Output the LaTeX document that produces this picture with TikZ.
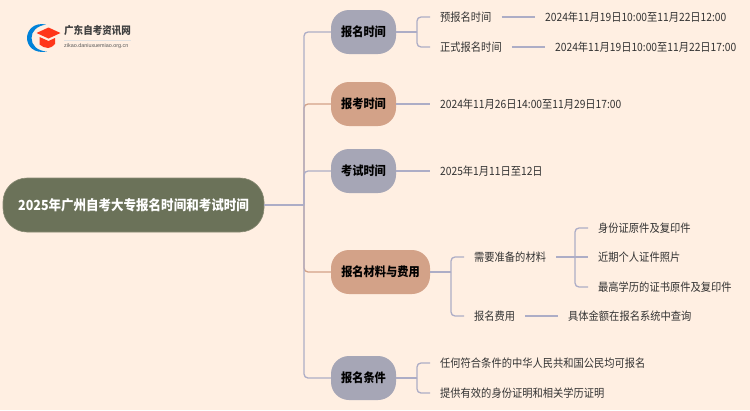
\documentclass[tikz,border=0pt]{standalone}
\usepackage{fontspec}
\setmainfont[FakeStretch=0.9]{Noto Sans CJK SC}
\newfontfamily\latinsans{Liberation Sans}
\definecolor{bgc}{HTML}{FFEFE2}
\definecolor{rootc}{HTML}{6B7259}
\definecolor{lav}{HTML}{A6A6B6}
\definecolor{sal}{HTML}{D3A288}
\definecolor{linel}{HTML}{ADADC6}
\definecolor{txt}{HTML}{333333}
\tikzset{
  x=1pt,y=-1pt,
  rootbox/.style={draw=rootc!80!bgc,line width=.6pt,fill=rootc,rounded corners=24pt,minimum width=261pt,minimum height=54pt,inner sep=0pt,text=white,font=\fontsize{13.9}{14}\selectfont\bfseries},
  topic/.style={rounded corners=18pt,minimum height=44pt,inner sep=0pt,text height=10.5pt,text depth=1.5pt,text=black,font=\fontsize{12.45}{13}\selectfont\bfseries},
  lavbox/.style={topic,fill=lav},
  salbox/.style={topic,fill=sal},
  leaf/.style={anchor=west,inner xsep=10pt,inner ysep=0pt,text height=10pt,text depth=1.4pt,text=txt,font=\fontsize{11.4}{12}\selectfont},
  lk/.style={draw=linel,line width=1.3pt,rounded corners=4pt},
  lks/.style={draw=sal,line width=1.3pt,rounded corners=4pt}
}
\begin{document}
\begin{tikzpicture}
\fill[bgc] (0,0) rectangle (750,410);
\useasboundingbox (0,0) rectangle (750,410);
% logo
\fill[color=blue!40!cyan!85!black] (46,24.5) .. controls (33,22) and (27,31) .. (27,38) .. controls (27,46) and (34,54) .. (47,51.5) .. controls (37,51) and (31.5,45) .. (31.5,38) .. controls (31.5,31) and (37,26) .. (46,24.5) -- cycle;
\fill[red!75!orange!90!white] (48.5,27.5) -- (60.5,33) -- (48.5,38.5) -- (36.5,33) -- cycle;
\fill[red!75!orange!90!white] (39.5,37) -- (48.5,41) -- (55,38) -- (55,44) .. controls (52,47) and (50,48) .. (48,48) .. controls (45,48) and (42,46.5) .. (39.5,44.5) -- cycle;
\node[inner sep=0pt,anchor=west,text=black!75,font=\fontsize{10.6}{11}\selectfont\bfseries] (logot) at (64,31) {广东自考资讯网};
\draw[black!12,line width=.4pt] (64,40.5) -- (131,40.5);
\node[inner sep=0pt,anchor=west,text=black!65,font=\latinsans\fontsize{5.4}{6}\selectfont] (logos) at (64,46) {zikao.daniuxuemiao.org.cn};
% nodes
\node[rootbox] (root) at (133.5,205) {2025年广州自考大专报名时间和考试时间};
\node[lavbox,minimum width=65pt] (n1) at (363.5,32) {报名时间};
\node[salbox,minimum width=65pt] (n2) at (363.5,104) {报考时间};
\node[lavbox,minimum width=65pt] (n3) at (363.5,171) {考试时间};
\node[salbox,minimum width=99pt] (n4) at (380.5,272) {报名材料与费用};
\node[lavbox,minimum width=65pt] (n5) at (363.5,378) {报名条件};
\node[leaf] (a1) at (430,17) {预报名时间};
\node[leaf] (a2) at (430,47) {正式报名时间};
\node[leaf] (a1d) at (535,17) {2024年11月19日10:00至11月22日12:00};
\node[leaf] (a2d) at (545,47) {2024年11月19日10:00至11月22日17:00};
\node[leaf] (b1) at (430,104) {2024年11月26日14:00至11月29日17:00};
\node[leaf] (c1) at (430,171) {2025年1月11日至12日};
\node[leaf] (d1) at (464,257) {需要准备的材料};
\node[leaf] (d2) at (464,316) {报名费用};
\node[leaf] (e1) at (588,228) {身份证原件及复印件};
\node[leaf] (e2) at (588,257) {近期个人证件照片};
\node[leaf] (e3) at (588,287) {最高学历的证书原件及复印件};
\node[leaf] (f1) at (558,316) {具体金额在报名系统中查询};
\node[leaf] (g1) at (430,363) {任何符合条件的中华人民共和国公民均可报名};
\node[leaf] (g2) at (430,393) {提供有效的身份证明和相关学历证明};
% junctions
\coordinate (tr) at (304,205);
\coordinate (j1) at (417,32);
\coordinate (j4) at (451,272);
\coordinate (j5) at (417,378);
\coordinate (jd) at (575,257);
% trunk
\draw[lks] (n2.west) -| (tr);
\draw[lks] (n4.west) -| (tr);
\draw[lk] (n1.west) -| (tr);
\draw[lk] (n3.west) -| (tr);
\draw[lk] (n5.west) -| (tr);
\draw[lk] (root.east) -- (tr);
% branches
\draw[lk] (n1.east) -- (j1);
\draw[lk] (j1) |- (a1.west);
\draw[lk] (j1) |- (a2.west);
\draw[lk] (a1.east) -- (a1d.west);
\draw[lk] (a2.east) -- (a2d.west);
\draw[lk] (n2.east) -- (b1.west);
\draw[lk] (n3.east) -- (c1.west);
\draw[lk] (n4.east) -- (j4);
\draw[lk] (j4) |- (d1.west);
\draw[lk] (j4) |- (d2.west);
\draw[lk] (d1.east) -- (e2.west);
\draw[lk] (jd) |- (e1.west);
\draw[lk] (jd) |- (e3.west);
\draw[lk] (d2.east) -- (f1.west);
\draw[lk] (n5.east) -- (j5);
\draw[lk] (j5) |- (g1.west);
\draw[lk] (j5) |- (g2.west);
\end{tikzpicture}
\end{document}
